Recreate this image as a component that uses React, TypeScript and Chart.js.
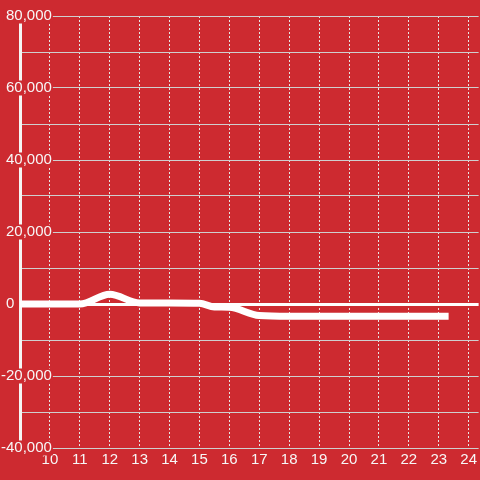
import React, { useEffect, useRef } from "react";
import { Chart, registerables } from "chart.js";

Chart.register(...registerables);

// Hours of the day (x) and values (y)
const hours = [9, 10, 11, 12, 13, 14, 15, 15.5, 16, 17, 18, 19, 20, 21, 22, 23, 23.33];
const values = [0, 0, 0, 2700, 300, 300, 200, -800, -900, -3200, -3400, -3400, -3400, -3400, -3400, -3400, -3400];

// Axis ranges / ticks
const yMin = -40000;
const yMax = 80000;
const yStep = 10000;
const yLabelStep = 20000;
const xMin = 9;
const xMax = 24.3333;
const xHiddenTicks = [9];

const BG = "#cd2a30";
const FONT = "'Liberation Sans', Arial, sans-serif";

export default function App() {
  const ref = useRef<HTMLCanvasElement | null>(null);

  useEffect(() => {
    const canvas = ref.current;
    if (!canvas) return;
    const chart = new Chart(canvas, {
      type: "line",
      data: {
        datasets: [
          {
            data: hours.map((h, i) => ({ x: h, y: values[i] })),
            borderColor: "#ffffff",
            borderWidth: 7,
            pointRadius: 0,
            fill: false,
            cubicInterpolationMode: "monotone",
          },
        ],
      },
      options: {
        animation: false,
        responsive: false,
        devicePixelRatio: 1,
        layout: { padding: { top: 16, left: 0, right: 0, bottom: 0 } },
        plugins: { legend: { display: false }, tooltip: { enabled: false } },
        scales: {
          x: {
            type: "linear",
            min: xMin,
            max: xMax,
            afterFit: (s: any) => {
              s.height = 32;
            },
            grid: {
              color: "#e6e6e6",
              lineWidth: 1,
              drawTicks: false,
            },
            border: { display: false, dash: [2, 2] },
            ticks: {
              stepSize: 1,
              includeBounds: false,
              autoSkip: false,
              maxRotation: 0,
              padding: 3,
              color: "#f7f7f7",
              font: { family: FONT, size: 15 },
              callback: (v: any) => (xHiddenTicks.includes(Number(v)) ? "" : String(v)),
            },
          },
          y: {
            type: "linear",
            min: yMin,
            max: yMax,
            afterFit: (s: any) => {
              s.width = 20;
            },
            grid: {
              color: (c: any) => (c.tick && c.tick.value === 0 ? "#ffffff" : "#cfcfcf"),
              lineWidth: (c: any) => (c.tick && c.tick.value === 0 ? 3 : 1),
              drawTicks: false,
            },
            border: { display: true, color: "#f5f5f5", width: 3 },
            ticks: {
              stepSize: yStep,
              mirror: true,
              crossAlign: "far",
              padding: -19,
              color: "#f7f7f7",
              font: { family: FONT, size: 15, lineHeight: 1 },
              showLabelBackdrop: true,
              backdropPadding: { top: 0, bottom: 0, left: 2, right: 1 },
              backdropColor: (c: any) =>
                c.tick && c.tick.value !== 0 && c.tick.value % yLabelStep === 0 ? BG : "rgba(0,0,0,0)",
              callback: (v: any) => {
                const n = Number(v);
                if (n % yLabelStep !== 0) return "";
                if (n === 0) return "0         ";
                return n.toLocaleString("en-US");
              },
            },
          },
        },
      },
    });
    return () => chart.destroy();
  }, []);

  return (
    <div
      style={{
        position: "fixed",
        left: 0,
        top: 0,
        width: 480,
        height: 480,
        background: BG,
      }}
    >
      <canvas ref={ref} width={480} height={480} style={{ display: "block" }} />
    </div>
  );
}
